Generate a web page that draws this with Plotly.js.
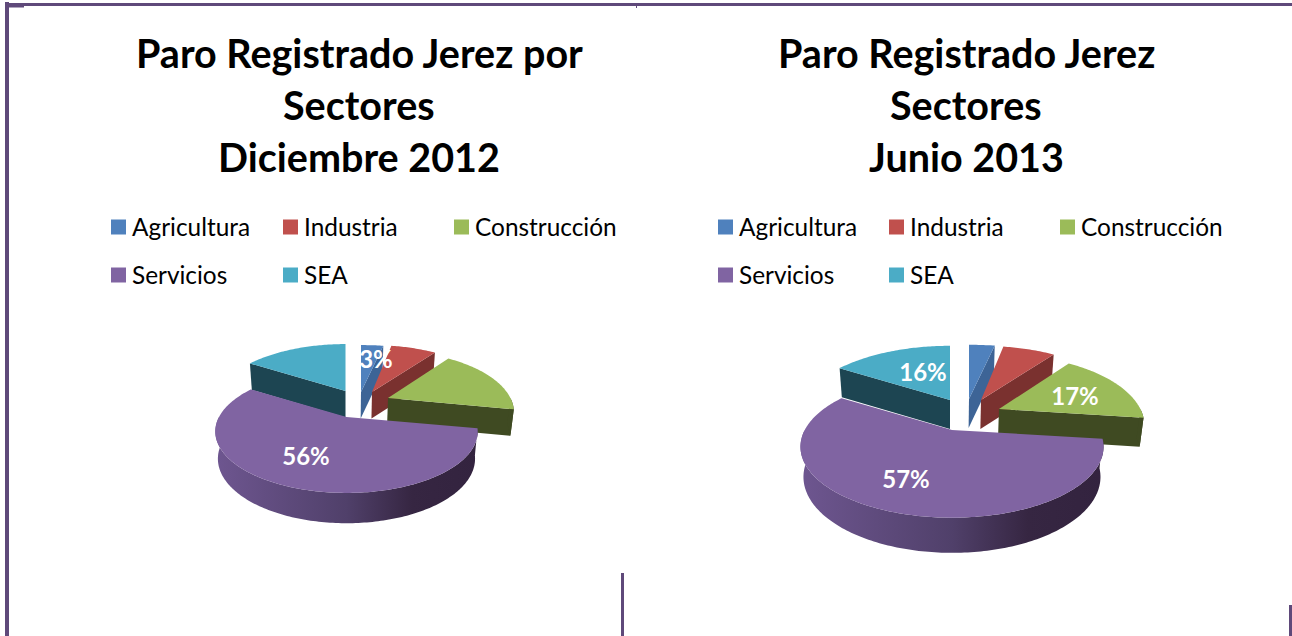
<!DOCTYPE html>
<html><head><meta charset="utf-8">
<script src="https://cdn.plot.ly/plotly-3.0.1.min.js"></script>
<style>html,body{margin:0;padding:0;background:#fff;overflow:hidden}#c{width:1292px;height:636px}</style>
</head><body><div id="c"></div>
<script>
// ---- data ----
const categories = ['Agricultura','Industria','Construcción','Servicios','SEA'];
const valuesDic2012 = [3,7,18,56,16];
const valuesJun2013 = [3,7,17,57,16];
const titleDic2012 = ['Paro Registrado Jerez por','Sectores','Diciembre 2012'];
const titleJun2013 = ['Paro Registrado Jerez','Sectores','Junio 2013'];
const labelledDic2012 = ['Agricultura','Servicios'];
const labelledJun2013 = ['Construcción','Servicios','SEA'];

// ---- styles and layout ----
const topColors  = ['#4F81BD','#C0504D','#9BBB59','#8064A2','#4BACC6'];
const wallColors = ['#3D6496','#7A312F','#3F4A22','#6C5489','#1D4552'];
const purpleWall = [[0,'#6E5690'],[0.5,'#50406A'],[0.75,'#362642'],[1,'#33233F']];
const FONT = 'Lato, Carlito, Calibri, sans-serif';
const pieLeft = {
  apex:[[361,392],[372,392],[388,398],[346.5,417],[345.5,391]], scale:1, cx:345, baseY:417, depth:26.5, depthSlope:.05,
  labelAt:{Agricultura:[376,362], Servicios:[306,459]}
};
const pieRight = {
  apex:[[969,399],[981,400],[999,409],[952,430],[950,400]], scale:1.155, cx:950, baseY:430, depth:29, depthSlope:.07,
  labelAt:{SEA:[923,375], 'Construcción':[1075,399], Servicios:[906,482]}
};
const RX=127.5, RY=58, PERSP=0.236;
const sliceWidth=[1.15,1,.96,1,1];
const rad=d=>d*Math.PI/180;

function project(pie,i,t,f){
  const u=f*Math.sin(rad(t)), v=f*Math.cos(rad(t)), s=1/(1+PERSP*v);
  return [pie.apex[i][0]+pie.scale*RX*sliceWidth[i]*u*s, pie.apex[i][1]-pie.scale*RY*v*s];
}
function lower(pie,p){
  return [p[0]-0.02*(p[0]-pie.cx), p[1]+pie.depth+pie.depthSlope*Math.max(0,p[1]-pie.baseY)];
}
function poly(pts,color,name,grad){
  const tr={type:'scatter',mode:'none',x:pts.map(p=>p[0]),y:pts.map(p=>p[1]),fill:'toself',
    fillcolor:color,hoverinfo:'skip',showlegend:false,name:name};
  if(grad) tr.fillgradient={type:'horizontal',colorscale:grad};
  return tr;
}
function pieTraces(values,pie){
  const total=values.reduce((a,b)=>a+b,0);
  let acc=0;
  const spans=values.map(v=>{const a=acc/total*360; acc+=v; return [a,acc/total*360];});
  const order=[4,0,1,2,3];
  const out=[];
  order.forEach(i=>{
    const [t0,t1]=spans[i], name=categories[i], apex=pie.apex[i];
    const face=t=>{
      const e=project(pie,i,t,1);
      return poly([apex,e,lower(pie,e),lower(pie,apex),apex],wallColors[i],name);
    };
    // a cut face shows when its outward normal turns toward the viewer
    if(Math.cos(rad(t0-90))<-1e-6) out.push(face(t0));
    if(Math.cos(rad(t1+90))<-1e-6) out.push(face(t1));
    // outer rim on the near half of the pie
    const a=Math.max(t0,90), b=Math.min(t1,270);
    if(b>a){
      const upper=[], low=[];
      for(let t=a;t<b;t+=1){upper.push(project(pie,i,t,1));}
      upper.push(project(pie,i,b,1));
      upper.forEach(p=>low.push(lower(pie,p)));
      const pts=upper.concat(low.reverse()); pts.push(upper[0]);
      out.push(poly(pts,wallColors[i],name,i===3?purpleWall:null));
    }
    // top face
    const pts=[apex];
    for(let t=t0;t<t1;t+=1){pts.push(project(pie,i,t,1));}
    pts.push(project(pie,i,t1,1)); pts.push(apex);
    out.push(poly(pts,topColors[i],name));
  });
  return out;
}
function labelTrace(values,pie,names){
  return {type:'scatter',mode:'text',hoverinfo:'skip',showlegend:false,
    x:names.map(n=>pie.labelAt[n][0]),y:names.map(n=>pie.labelAt[n][1]),
    text:names.map(n=>values[categories.indexOf(n)]+'%'),textposition:'middle center',
    textfont:{family:FONT,size:24,color:'#FFFFFF',weight:700}};
}
function legendTraces(colX){
  const rowY=i=>i<3?227:275;
  const swatches=categories.map((c,i)=>({type:'scatter',mode:'markers',hoverinfo:'skip',showlegend:false,name:c,
    x:[colX[i%3]],y:[rowY(i)],marker:{symbol:'square',size:15,color:topColors[i],line:{width:0}}}));
  const words={type:'scatter',mode:'text',hoverinfo:'skip',showlegend:false,
    x:categories.map((c,i)=>colX[i%3]+13.5),y:categories.map((c,i)=>rowY(i)+3),
    text:categories,textposition:'middle right',
    textfont:{family:FONT,size:24.4,color:'#000000'},cliponaxis:false};
  return swatches.concat([words]);
}
function titleAnn(lines,x){
  return lines.map((l,i)=>({text:l,x:x,y:52+i*52,xref:'x',yref:'y',showarrow:false,xanchor:'center',yanchor:'middle',
    font:{family:FONT,size:39.5,color:'#000000',weight:700}}));
}
const FRAME='#5F497A';
const bar=(x0,y0,x1,y1)=>({type:'rect',xref:'x',yref:'y',x0,y0,x1,y1,fillcolor:FRAME,line:{width:0},layer:'above'});
const shapes=[bar(5,2,9,636),bar(5,3,1292,6),bar(9,6,24,7.5),bar(636,6,637,8),bar(621,573,624,636),bar(1289,605,1292,636)];

const traces=[].concat(
  pieTraces(valuesDic2012,pieLeft),pieTraces(valuesJun2013,pieRight),
  [labelTrace(valuesDic2012,pieLeft,labelledDic2012),labelTrace(valuesJun2013,pieRight,labelledJun2013)],
  legendTraces([118.5,290.5,461.5]),legendTraces([725.5,896.5,1067.5])
);
const axis={range:[0,1292],visible:false,fixedrange:true};
Plotly.newPlot('c',traces,{
  width:1292,height:636,margin:{l:0,r:0,t:0,b:0},paper_bgcolor:'#fff',plot_bgcolor:'#fff',showlegend:false,
  xaxis:axis,yaxis:{range:[636,0],visible:false,fixedrange:true},
  annotations:titleAnn(titleDic2012,359).concat(titleAnn(titleJun2013,966)),shapes:shapes
},{displayModeBar:false,staticPlot:true});
</script></body></html>
